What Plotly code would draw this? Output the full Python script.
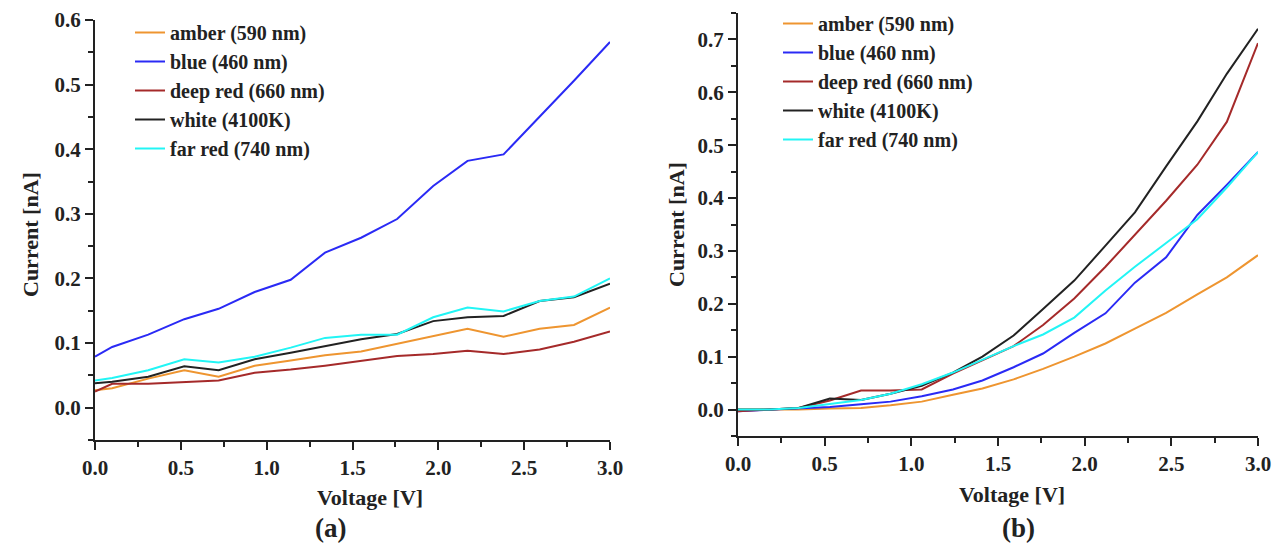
import plotly.graph_objects as go

# page body has an 8px margin, so the figure is drawn 8px in from the window corner
OFF = 8
W, H = 1280 - OFF, 548 - OFF

# ---------- Panel (a) data ----------
volt_a = [0, 0.1, 0.31, 0.52, 0.72, 0.93, 1.14, 1.34, 1.55, 1.76, 1.97, 2.17, 2.38, 2.59, 2.79, 3.0]
amber_a = [0.027, 0.030, 0.045, 0.058, 0.048, 0.065, 0.073, 0.081, 0.087, 0.099, 0.110, 0.122, 0.110, 0.122, 0.128, 0.155]
blue_a = [0.079, 0.094, 0.113, 0.137, 0.153, 0.179, 0.198, 0.240, 0.263, 0.292, 0.343, 0.382, 0.392, 0.450, 0.506, 0.566]
deepred_a = [0.025, 0.037, 0.037, 0.040, 0.042, 0.054, 0.059, 0.065, 0.072, 0.080, 0.083, 0.088, 0.083, 0.090, 0.102, 0.118]
white_a = [0.038, 0.040, 0.048, 0.064, 0.058, 0.075, 0.085, 0.095, 0.106, 0.114, 0.134, 0.140, 0.142, 0.165, 0.171, 0.192]
farred_a = [0.042, 0.046, 0.058, 0.075, 0.070, 0.079, 0.093, 0.108, 0.113, 0.113, 0.140, 0.155, 0.149, 0.165, 0.172, 0.200]

# ---------- Panel (b) data ----------
volt_b = [0, 0.18, 0.35, 0.53, 0.71, 0.88, 1.06, 1.24, 1.41, 1.59, 1.76, 1.94, 2.12, 2.29, 2.47, 2.65, 2.82, 3.0]
amber_b = [0.0, 0.0, 0.0, 0.002, 0.003, 0.008, 0.015, 0.028, 0.040, 0.057, 0.077, 0.100, 0.125, 0.153, 0.183, 0.218, 0.250, 0.292]
blue_b = [-0.003, 0.0, 0.002, 0.005, 0.010, 0.015, 0.025, 0.038, 0.055, 0.080, 0.106, 0.145, 0.182, 0.240, 0.288, 0.368, 0.425, 0.487]
deepred_b = [-0.003, 0.0, 0.003, 0.017, 0.036, 0.036, 0.038, 0.068, 0.093, 0.120, 0.160, 0.210, 0.270, 0.330, 0.395, 0.463, 0.544, 0.693]
white_b = [0.0, 0.0, 0.003, 0.021, 0.018, 0.030, 0.045, 0.070, 0.100, 0.140, 0.190, 0.244, 0.310, 0.373, 0.460, 0.545, 0.635, 0.720]
farred_b = [0.0, 0.0, 0.003, 0.010, 0.018, 0.030, 0.048, 0.070, 0.095, 0.120, 0.142, 0.174, 0.225, 0.270, 0.315, 0.360, 0.420, 0.487]

names = ["amber (590 nm)", "blue (460 nm)", "deep red (660 nm)", "white (4100K)", "far red (740 nm)"]
colors = ["#EE9530", "#2A2AF5", "#A52A2A", "#222222", "#22F5F5"]

FONT = "Liberation Serif"
INK = "#222222"


def px(x):
    return (x - OFF) / W


def py(y):
    return 1 - (y - OFF) / H


fig = go.Figure()
for nm, col, ys in zip(names, colors, [amber_a, blue_a, deepred_a, white_a, farred_a]):
    fig.add_trace(go.Scatter(x=volt_a, y=ys, mode="lines", name=nm, line=dict(color=col, width=2),
                             xaxis="x", yaxis="y", legend="legend"))
for nm, col, ys in zip(names, colors, [amber_b, blue_b, deepred_b, white_b, farred_b]):
    fig.add_trace(go.Scatter(x=volt_b, y=ys, mode="lines", name=nm, line=dict(color=col, width=2),
                             xaxis="x2", yaxis="y2", legend="legend2"))

tickfont = dict(family=FONT, size=21, color=INK, weight="bold")


def xaxis(domain, anchor):
    return dict(domain=domain, anchor=anchor, range=[0, 3.0], tickvals=[0, 0.5, 1.0, 1.5, 2.0, 2.5, 3.0],
                ticktext=["0.0", "0.5", "1.0", "1.5", "2.0", "2.5", "3.0"], automargin=False,
                showline=True, linecolor=INK, linewidth=2, ticks="outside", ticklen=8, tickwidth=2,
                tickcolor=INK, showgrid=False, zeroline=False, tickfont=tickfont,
                minor=dict(ticks="outside", ticklen=5, tickwidth=2, tickcolor=INK, dtick=0.25, showgrid=False))


def yaxis(domain, anchor, rng, vals):
    return dict(domain=domain, anchor=anchor, range=rng, tickvals=vals, ticktext=["%.1f" % v for v in vals],
                automargin=False,
                showline=True, linecolor=INK, linewidth=2, ticks="outside", ticklen=8, tickwidth=2,
                tickcolor=INK, showgrid=False, zeroline=False, tickfont=tickfont,
                minor=dict(ticks="outside", ticklen=5, tickwidth=2, tickcolor=INK, dtick=0.05, showgrid=False))


legend_common = dict(font=dict(family=FONT, size=20, color=INK, weight="bold"), bgcolor="rgba(0,0,0,0)",
                     xanchor="left", yanchor="top", tracegroupgap=0, itemwidth=30)

fig.update_layout(
    template="none",
    width=W, height=H, margin=dict(l=0, r=0, t=0, b=0, pad=0, autoexpand=False),
    paper_bgcolor="white", plot_bgcolor="white",
    xaxis=xaxis([px(95), px(610)], "y"),
    yaxis=yaxis([py(440), py(20)], "x", [-0.05, 0.6], [0.0, 0.1, 0.2, 0.3, 0.4, 0.5, 0.6]),
    xaxis2=xaxis([px(738), px(1258)], "y2"),
    yaxis2=yaxis([py(436), py(13)], "x2", [-0.05, 0.75], [0.0, 0.1, 0.2, 0.3, 0.4, 0.5, 0.6, 0.7]),
    legend=dict(x=px(130), y=py(13), **legend_common),
    legend2=dict(x=px(778), y=py(4), **legend_common),
    font=dict(family=FONT, color=INK),
)

title_font = dict(family=FONT, size=22, color=INK, weight="bold")
big_font = dict(family=FONT, size=27, color=INK, weight="bold")
ann = [
    dict(text="Current [nA]", x=px(30), y=py(235), textangle=-90, font=title_font),
    dict(text="Voltage [V]", x=px(370), y=py(497), font=title_font),
    dict(text="(a)", x=px(330), y=py(528), font=big_font),
    dict(text="Current [nA]", x=px(676), y=py(225), textangle=-90, font=title_font),
    dict(text="Voltage [V]", x=px(1012), y=py(494), font=title_font),
    dict(text="(b)", x=px(1018), y=py(528), font=big_font),
]
for a in ann:
    a.update(xref="paper", yref="paper", showarrow=False, xanchor="center", yanchor="middle")
fig.update_layout(annotations=ann)

fig.write_html("out.html")
